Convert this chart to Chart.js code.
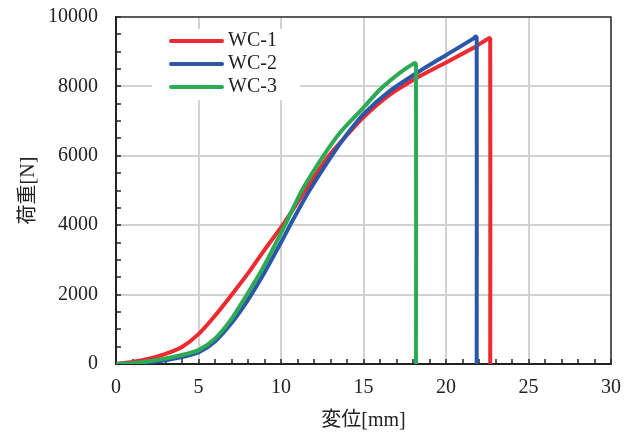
<!DOCTYPE html>
<html>
<head>
<meta charset="utf-8">
<script src="https://cdn.jsdelivr.net/npm/chart.js@4.4.0/dist/chart.umd.min.js"></script>
<style>
  html, body { margin: 0; padding: 0; background: #fff; }
</style>
</head>
<body>
<canvas id="grafico" width="637" height="434"></canvas>
<script>
// datos
const seriesNames = ['WC-1', 'WC-2', 'WC-3'];
const seriesColors = ['#ec2a2f', '#2a57a8', '#2eaa55'];

const wc1X = [0, 1, 2, 3, 4, 5, 6, 7, 8, 9, 10.1, 11.4, 12.9, 14, 15, 16.6, 18.4, 20, 21.7, 22.6, 22.68, 22.68];
const wc1Y = [0, 60, 150, 290, 490, 860, 1390, 1990, 2610, 3290, 4000, 4950, 6000, 6600, 7110, 7760, 8290, 8690, 9120, 9390, 9370, 0];

const wc2X = [0, 1, 2, 3, 4, 5, 6, 7, 8, 9, 10, 10.55, 11.66, 13.07, 14, 15, 16.6, 18.4, 20, 21.7, 21.8, 21.86, 21.86];
const wc2Y = [0, 15, 50, 110, 200, 330, 650, 1180, 1850, 2640, 3500, 4000, 4950, 6000, 6620, 7200, 7870, 8440, 8900, 9390, 9440, 9400, 0];

const wc3X = [0, 1, 2, 3, 4, 5, 6, 7, 7.92, 8.73, 9.33, 10.24, 11.25, 12.57, 13.6, 15, 16, 17.2, 18.08, 18.18, 18.18];
const wc3Y = [0, 25, 80, 160, 260, 400, 730, 1300, 1990, 2620, 3150, 4000, 4990, 6000, 6680, 7390, 7910, 8390, 8670, 8640, 0];

const xTicks = [0, 5, 10, 15, 20, 25, 30];
const yTicks = [0, 2000, 4000, 6000, 8000, 10000];

const fuente = "'Liberation Serif', 'Noto Sans CJK JP', serif";

function puntos(xs, ys) {
    return xs.map((x, i) => ({ x: x, y: ys[i] }));
}

const allX = [wc1X, wc2X, wc3X];
const allY = [wc1Y, wc2Y, wc3Y];

const datasets = seriesNames.map((name, i) => ({
    label: name,
    data: puntos(allX[i], allY[i]),
    borderColor: seriesColors[i],
    backgroundColor: seriesColors[i],
    borderWidth: 4,
    pointRadius: 0,
    tension: 0.25,
    borderCapStyle: 'round',
    borderJoinStyle: 'round',
    fill: false,
    order: 3 - i
}));

// marco superior/derecho y leyenda dentro del área
const marcoYLeyenda = {
    id: 'marcoYLeyenda',
    afterDatasetsDraw(chart) {
        const { ctx, chartArea } = chart;
        ctx.save();
        ctx.strokeStyle = '#333';
        ctx.lineWidth = 1.5;
        ctx.beginPath();
        ctx.moveTo(chartArea.left, chartArea.top);
        ctx.lineTo(chartArea.right, chartArea.top);
        ctx.lineTo(chartArea.right, chartArea.bottom);
        ctx.stroke();

        // leyenda
        ctx.fillStyle = '#fff';
        ctx.fillRect(152, 29, 148, 71);
        ctx.font = '20px ' + fuente;
        ctx.textBaseline = 'middle';
        ctx.textAlign = 'left';
        seriesNames.forEach((name, i) => {
            const y = 41 + i * 23;
            ctx.strokeStyle = seriesColors[i];
            ctx.lineWidth = 4;
            ctx.lineCap = 'round';
            ctx.beginPath();
            ctx.moveTo(171, y);
            ctx.lineTo(222, y);
            ctx.stroke();
            ctx.fillStyle = '#222';
            ctx.fillText(name, 228, y);
        });
        ctx.restore();
    }
};

new Chart(document.getElementById('grafico').getContext('2d'), {
    type: 'line',
    data: { datasets: datasets },
    options: {
        responsive: false,
        animation: false,
        layout: { padding: { top: 17, right: 26, left: 0, bottom: 0 } },
        plugins: {
            legend: { display: false },
            tooltip: { enabled: false }
        },
        scales: {
            x: {
                type: 'linear',
                min: 0,
                max: 30,
                afterFit: (scale) => {
                    scale.height = 70;
                    scale.paddingLeft = 0;
                    scale.paddingRight = 0;
                },
                border: { color: '#222', width: 2 },
                grid: {
                    color: (c) => xTicks.includes(c.tick.value) ? '#d2d2d2' : 'rgba(0,0,0,0)',
                    lineWidth: 2,
                    tickColor: '#222',
                    tickWidth: 1.5,
                    tickLength: -5
                },
                ticks: {
                    stepSize: 1,
                    autoSkip: false,
                    maxRotation: 0,
                    padding: 17,
                    color: '#222',
                    font: { family: fuente, size: 20 },
                    callback: (v) => xTicks.includes(v) ? String(v) : ''
                },
                title: {
                    display: true,
                    text: '変位[mm]',
                    color: '#222',
                    font: { family: fuente, size: 20 },
                    padding: { top: 0, bottom: 1 }
                }
            },
            y: {
                type: 'linear',
                min: 0,
                max: 10000,
                afterFit: (scale) => {
                    scale.width = 116;
                    scale.paddingTop = 0;
                    scale.paddingBottom = 0;
                },
                border: { color: '#222', width: 2 },
                grid: {
                    color: (c) => yTicks.includes(c.tick.value) ? '#d2d2d2' : 'rgba(0,0,0,0)',
                    lineWidth: 2,
                    tickColor: '#222',
                    tickWidth: 1.5,
                    tickLength: -5
                },
                ticks: {
                    stepSize: 500,
                    autoSkip: false,
                    padding: 23,
                    color: '#222',
                    font: { family: fuente, size: 20 },
                    callback: (v) => yTicks.includes(v) ? String(v) : ''
                },
                title: {
                    display: true,
                    text: '荷重[N]',
                    color: '#222',
                    font: { family: fuente, size: 20 },
                    padding: { top: 17, bottom: 0 }
                }
            }
        }
    },
    plugins: [marcoYLeyenda]
});
</script>
</body>
</html>
